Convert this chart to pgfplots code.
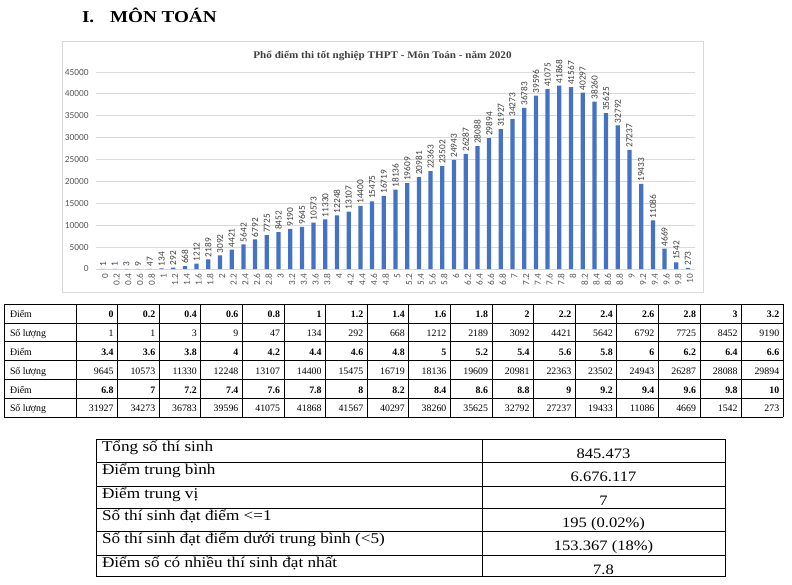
\documentclass[border=0pt]{standalone}
\usepackage{fontspec}
\setmainfont{Liberation Serif}
\newfontfamily\carlito{Carlito}
\newfontfamily\wideserif[FakeStretch=1.15]{Liberation Serif}
\newfontfamily\titleserif[FakeStretch=1.1]{Liberation Serif}
\usepackage{pgfplots}
\usepackage{pgfplotstable}
\pgfplotsset{compat=1.18}
\definecolor{barblue}{HTML}{4472C4}
\definecolor{gridgray}{HTML}{D9D9D9}
\definecolor{ticktext}{HTML}{595959}
\definecolor{lbltext}{HTML}{404040}

\pgfplotstableread{
idx lab val
0 0 1
1 0.2 1
2 0.4 3
3 0.6 9
4 0.8 47
5 1 134
6 1.2 292
7 1.4 668
8 1.6 1212
9 1.8 2189
10 2 3092
11 2.2 4421
12 2.4 5642
13 2.6 6792
14 2.8 7725
15 3 8452
16 3.2 9190
17 3.4 9645
18 3.6 10573
19 3.8 11330
20 4 12248
21 4.2 13107
22 4.4 14400
23 4.6 15475
24 4.8 16719
25 5 18136
26 5.2 19609
27 5.4 20981
28 5.6 22363
29 5.8 23502
30 6 24943
31 6.2 26287
32 6.4 28088
33 6.6 29894
34 6.8 31927
35 7 34273
36 7.2 36783
37 7.4 39596
38 7.6 41075
39 7.8 41868
40 8 41567
41 8.2 40297
42 8.4 38260
43 8.6 35625
44 8.8 32792
45 9 27237
46 9.2 19433
47 9.4 11086
48 9.6 4669
49 9.8 1542
50 10 273
}\scoredata

\begin{document}
\begin{tikzpicture}[x=0.75pt,y=-0.75pt,t/.style={inner sep=0pt,outer sep=0pt}]
\useasboundingbox (0,0) rectangle (792,585);
% heading
\node[t,anchor=base west,font=\wideserif\bfseries\fontsize{12.5}{14}\selectfont] at (82,23) {I.};
\node[t,anchor=base west,font=\wideserif\bfseries\fontsize{12.5}{14}\selectfont] at (110,23) {MÔN TOÁN};
% chart frame and title
\draw[gridgray,line width=0.75pt] (62,42) rectangle (703,292);
\node[t,anchor=base,font=\titleserif\bfseries\fontsize{7.6}{9}\selectfont,text=lbltext] at (382.5,59) {Phổ điểm thi tốt nghiệp THPT - Môn Toán - năm 2020};
\coordinate (axpos) at (96,269);
\begin{axis}[
  at={(axpos)}, anchor=south west,
  scale only axis, width=449.25pt, height=147.75pt,
  xmin=-0.6, xmax=50.6, ymin=0, ymax=45000,
  enlargelimits=false, clip=false,
  axis line style={draw=none},
  major tick length=0pt,
  ymajorgrids, grid style={gridgray,line width=0.6pt},
  ytick={0,5000,...,45000},
  scaled y ticks=false,
  xtick=data,
  xticklabels from table={\scoredata}{lab},
  /pgf/number format/assume math mode=true,
  /pgf/number format/1000 sep={},
  tick label style={font=\carlito\fontsize{7}{8}\selectfont,text=ticktext},
  yticklabel style={anchor=east,xshift=-2pt},
  xticklabel style={rotate=90,anchor=east,yshift=-1.5pt},
  ybar, bar width=3.2pt,
  nodes near coords,
  every node near coord/.append style={rotate=90,anchor=west,inner sep=1.5pt,
     font=\carlito\fontsize{7}{8}\selectfont,text=lbltext},
]
\addplot[fill=barblue,draw=none] table[x=idx,y=val]{\scoredata};
\end{axis}
% data table
\foreach \r in {0,...,6}{
  \pgfmathsetmacro\yy{304+18.9*\r}
  \draw[black,line width=0.6pt] (4,\yy) -- (783.2,\yy);
}
\draw[black,line width=0.6pt] (4,304) -- (4,417.4);
\foreach \c in {0,...,17}{
  \pgfmathsetmacro\xx{76+41.6*\c}
  \draw[black,line width=0.6pt] (\xx,304) -- (\xx,417.4);
}
\foreach \b in {0,1,2}{
  \pgfmathsetmacro\ya{304+37.8*\b+13.4}
  \pgfmathsetmacro\yb{304+37.8*\b+18.9+13.4}
  \node[t,anchor=base west,font=\fontsize{7.4}{9}\selectfont] at (10,\ya) {Điểm};
  \node[t,anchor=base west,font=\fontsize{7.4}{9}\selectfont] at (10,\yb) {Số lượng};
  \foreach \c in {0,...,16}{
    \pgfmathtruncatemacro\i{\b*17+\c}
    \pgfmathsetmacro\xr{76+41.6*(\c+1)-4}
    \pgfplotstablegetelem{\i}{lab}\of\scoredata
    \node[t,anchor=base east,font=\bfseries\fontsize{7.4}{9}\selectfont] at (\xr,\ya) {\pgfplotsretval};
    \pgfplotstablegetelem{\i}{val}\of\scoredata
    \node[t,anchor=base east,font=\fontsize{7.4}{9}\selectfont] at (\xr,\yb) {\pgfplotsretval};
  }
}
% summary table
\draw[black,line width=0.75pt] (96,439) rectangle (725,576);
\draw[black,line width=0.75pt] (482,439) -- (482,576);
\foreach \yy in {462,486,508,531,555}{
  \draw[black,line width=0.75pt] (96,\yy) -- (725,\yy);
}
\foreach \top/\lft/\rgt in {439/{Tổng số thí sinh}/{845.473},
  462/{Điểm trung bình}/{6.676.117},
  486/{Điểm trung vị}/{7},
  508/{Số thí sinh đạt điểm <=1}/{195 (0.02\%)},
  531/{Số thí sinh đạt điểm dưới trung bình (<5)}/{153.367 (18\%)},
  555/{Điểm số có nhiều thí sinh đạt nhất}/{7.8}}{
  \pgfmathsetmacro\yl{\top+12.8}
  \pgfmathsetmacro\yr{\top+19}
  \node[t,anchor=base west,font=\wideserif\fontsize{11.2}{13}\selectfont] at (102,\yl) {\lft};
  \node[t,anchor=base,font=\wideserif\fontsize{10.8}{13}\selectfont] at (603.5,\yr) {\rgt};
}
\end{tikzpicture}
\end{document}
